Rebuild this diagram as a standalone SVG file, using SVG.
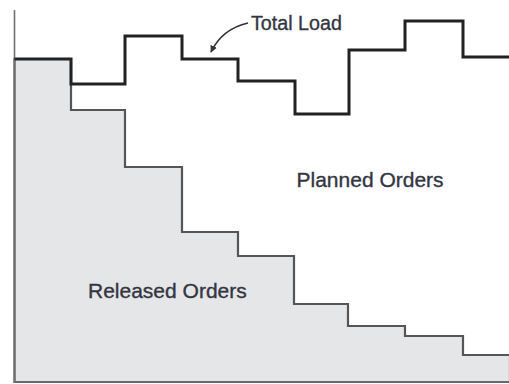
<svg xmlns="http://www.w3.org/2000/svg" width="509" height="384" viewBox="0 0 509 384">
  <style>
    .label { font-family: "Liberation Sans", Arial, sans-serif; fill: #343542; stroke: #343542; stroke-width: 0.35; }
    .axis { fill: none; stroke: #707070; stroke-width: 1.6; }
    .released { fill: #e5e6e8; stroke: #555555; stroke-width: 2.2; stroke-linejoin: miter; }
    .total { fill: none; stroke: #222222; stroke-width: 3; stroke-linejoin: miter; }
    .pointer { fill: none; stroke: #333333; stroke-width: 1.6; }
  </style>
  <defs>
    <marker id="arrow" viewBox="0 0 10 10" refX="9" refY="5" markerWidth="7" markerHeight="7" orient="auto" markerUnits="userSpaceOnUse">
      <path d="M0,0 L10,5 L0,10 z" fill="#333333"/>
    </marker>
  </defs>

  <!-- released orders area (stepped, shaded) -->
  <g id="released-orders">
    <path class="released" d="M14.5,382 L14.5,59 L71,59 L71,110 L125,110 L125,167 L182,167 L182,232 L238,232 L238,256 L294,256 L294,304 L348,304 L348,326 L405,326 L405,336 L463,336 L463,355 L510,355 L510,382 Z"/>
    <text class="label" x="88" y="298" font-size="21">Released Orders</text>
  </g>

  <!-- axes -->
  <g id="axes">
    <path class="axis" d="M14.5,10 L14.5,382 L509,382"/>
  </g>

  <!-- total load profile -->
  <g id="total-load">
    <path class="total" d="M14.5,59 L71,59 L71,84 L125,84 L125,36 L182,36 L182,59 L238,59 L238,81 L295,81 L295,114 L349,114 L349,50 L405,50 L405,21 L463,21 L463,57 L510,57"/>
  </g>

  <g id="planned-orders">
    <text class="label" x="296.5" y="187" font-size="21">Planned Orders</text>
  </g>

  <!-- callout -->
  <g id="connectors">
    <path class="pointer" d="M248,23 Q222,29 211,52" marker-end="url(#arrow)"/>
  </g>
  <g id="total-load-label">
    <text class="label" x="251" y="30" font-size="19.7">Total Load</text>
  </g>
</svg>
